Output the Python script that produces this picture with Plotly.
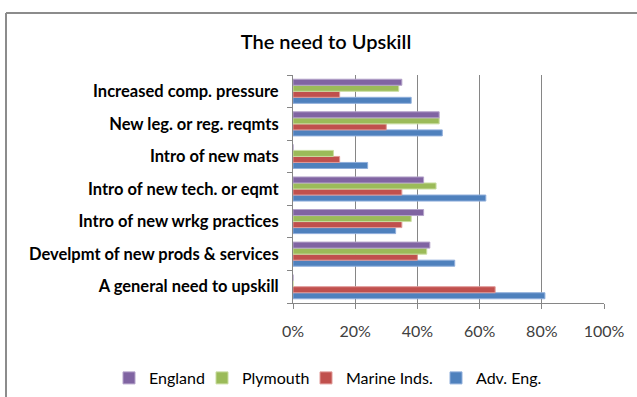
import plotly.graph_objects as go

# Categories listed bottom-to-top (Plotly draws the first category at the bottom)
categories = [
    "A general need to upskill",
    "Develpmt of new prods & services",
    "Intro of new wrkg practices",
    "Intro of new tech. or eqmt",
    "Intro of new mats",
    "New leg. or reg. reqmts",
    "Increased comp. pressure",
]

# Percentages for each region, same order as categories
adv_eng = [81, 52, 33, 62, 24, 48, 38]
marine_inds = [65, 40, 35, 35, 15, 30, 15]
plymouth = [0, 43, 38, 46, 13, 47, 34]
england = [0, 44, 42, 42, 0, 47, 35]

x_ticks = [0, 20, 40, 60, 80, 100]
x_tick_labels = ["0%", "20%", "40%", "60%", "80%", "100%"]

# name, values, fill, edge, legend entry width
series = [
    ("Adv. Eng.", adv_eng, "#4F81BD", "#8FAEDB", None),
    ("Marine Inds.", marine_inds, "#C0504D", "#E09A98", 85),
    ("Plymouth", plymouth, "#9BBB59", "#C9DDA0", 59),
    ("England", england, "#8064A2", "#B3A2C9", 48),
]

fig = go.Figure()
for name, vals, color, edge, lw in series:
    fig.add_trace(go.Bar(
        y=categories,
        x=vals,
        name=name,
        orientation="h",
        marker=dict(color=color, line=dict(color=edge, width=1)),
        legendwidth=lw,
    ))

W, H = 637, 397
ml, mr, mt, mb = 293, 33, 75, 94
pw, ph = W - ml - mr, H - mt - mb


def px_x(p):
    return (p - ml) / pw


def px_y(p):
    return (H - mb - p) / ph


fig.update_layout(
    width=W,
    height=H,
    margin=dict(l=ml, r=mr, t=mt, b=mb, autoexpand=False),
    paper_bgcolor="white",
    plot_bgcolor="white",
    barmode="group",
    bargap=0.26,
    bargroupgap=0,
    font=dict(family="Lato, Open Sans, sans-serif", color="#000000"),
    title=dict(
        text="The need to Upskill",
        x=326 / W,
        xanchor="center",
        y=1 - 42 / H,
        yanchor="middle",
        font=dict(size=20, color="#000000", family="Lato, sans-serif", weight=600),
    ),
    xaxis=dict(
        range=[0, 100],
        tickvals=x_ticks,
        ticktext=x_tick_labels,
        showgrid=True,
        gridcolor="#868686",
        gridwidth=1,
        showline=True,
        linecolor="#868686",
        linewidth=1,
        ticks="outside",
        ticklen=5,
        tickcolor="#868686",
        tickfont=dict(size=16, color="#404040"),
        ticklabelstandoff=9,
        zeroline=False,
        automargin=False,
        fixedrange=True,
    ),
    yaxis=dict(
        categoryorder="array",
        categoryarray=categories,
        showline=True,
        linecolor="#868686",
        linewidth=1,
        ticks="outside",
        tickson="boundaries",
        ticklen=5,
        tickcolor="#868686",
        tickfont=dict(size=16.5, color="#000000", weight="bold"),
        ticklabelstandoff=10,
        showgrid=False,
        automargin=False,
        fixedrange=True,
    ),
    legend=dict(
        orientation="h",
        traceorder="reversed",
        x=px_x(109),
        xanchor="left",
        y=px_y(378),
        yanchor="middle",
        font=dict(size=16, color="#000000"),
        bgcolor="rgba(0,0,0,0)",
    ),
    shapes=[
        dict(type="line", xref="paper", yref="paper",
             x0=px_x(6), x1=px_x(640), y0=px_y(13), y1=px_y(13),
             line=dict(color="#8C8C8C", width=2)),
        dict(type="line", xref="paper", yref="paper",
             x0=px_x(6), x1=px_x(6), y0=px_y(13), y1=px_y(400),
             line=dict(color="#8C8C8C", width=2)),
    ],
)

fig.write_html("out.html")
